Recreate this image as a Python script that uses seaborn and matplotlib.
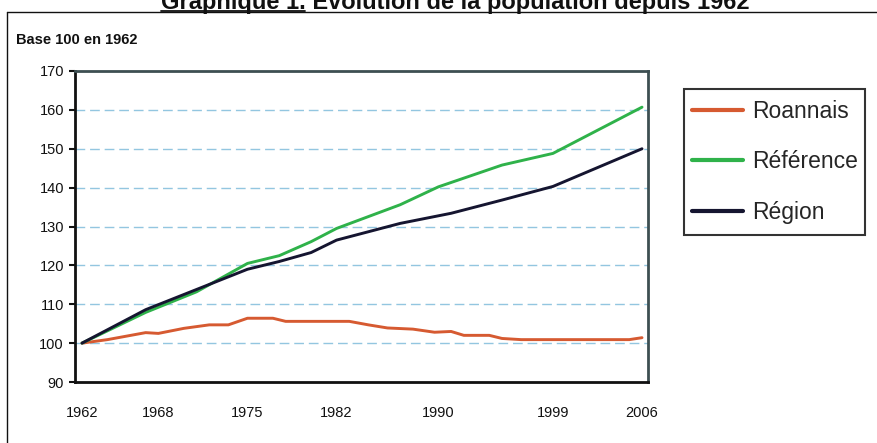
import pandas as pd
import matplotlib
matplotlib.use("Agg")
import matplotlib.pyplot as plt
from matplotlib.lines import Line2D
from matplotlib.patches import Rectangle
from matplotlib import font_manager
import seaborn as sns

# -------------------- Data (base 100 in 1962) --------------------
roannais_years = [1962, 1964, 1967, 1968, 1970, 1972, 1973.5, 1975, 1977, 1978, 1983,
                  1984.5, 1986, 1988, 1989.7, 1991, 1992, 1994, 1995, 1996.5, 2005, 2006]
roannais_values = [100, 100.9, 102.7, 102.5, 103.8, 104.7, 104.7, 106.4, 106.4, 105.6, 105.6,
                   104.7, 103.9, 103.6, 102.8, 103, 102, 102, 101.2, 100.9, 100.9, 101.4]

reference_years = [1962, 1967, 1971, 1975, 1977.5, 1980, 1982, 1987, 1990, 1995, 1999, 2006]
reference_values = [100, 107.9, 113.2, 120.5, 122.5, 126.1, 129.5, 135.6, 140.2, 145.8, 148.8, 160.7]

region_years = [1962, 1967, 1971, 1975, 1977.5, 1980, 1982, 1987, 1991, 1995, 1999, 2006]
region_values = [100, 108.6, 113.8, 119, 121, 123.3, 126.5, 130.8, 133.4, 136.8, 140.3, 150]

series_names = ["Roannais", "Référence", "Région"]
colors = ["#d65a31", "#2fb24a", "#151530"]

x_ticks = [1962, 1968, 1975, 1982, 1990, 1999, 2006]
y_ticks = [90, 100, 110, 120, 130, 140, 150, 160, 170]

frames = []
for name, yrs, vals in zip(series_names,
                           [roannais_years, reference_years, region_years],
                           [roannais_values, reference_values, region_values]):
    frames.append(pd.DataFrame({"annee": yrs, "indice": vals, "zone": name}))
df = pd.concat(frames, ignore_index=True)

# -------------------- Style --------------------
sns.set_theme(style="white")
installed = {f.name for f in font_manager.fontManager.ttflist}
if "Liberation Sans Narrow" in installed:
    cond_font = ["Liberation Sans Narrow", "Liberation Sans", "DejaVu Sans"]
    tick_size, base_size, leg_size = 12, 12.5, 19
else:
    cond_font = ["Liberation Sans", "DejaVu Sans"]
    tick_size, base_size, leg_size = 10.5, 10.5, 16.5
plt.rcParams["font.family"] = ["Liberation Sans", "DejaVu Sans"]

W, H = 878, 443
fig = plt.figure(figsize=(W / 100, H / 100), dpi=100)
ax = fig.add_axes([75 / W, (H - 382) / H, (648 - 75) / W, (382 - 71) / H])

sns.lineplot(data=df, x="annee", y="indice", hue="zone", hue_order=series_names,
             palette=colors, estimator=None, linewidth=2.1, ax=ax)

ax.set_xlim(1961.45, 2006.47)
ax.set_ylim(90, 170)
ax.set_xticks(x_ticks)
ax.set_yticks(y_ticks)
ax.set_xlabel("")
ax.set_ylabel("")
for lab in ax.get_xticklabels() + ax.get_yticklabels():
    lab.set_family(cond_font)
    lab.set_color("#111111")
ax.tick_params(axis="x", length=0, pad=17, labelsize=tick_size)
ax.tick_params(axis="y", length=4, width=1.5, direction="out", pad=4, labelsize=tick_size,
               left=True, color="#111111")

for y in y_ticks[1:-1]:
    ax.axhline(y, color="#93c6e0", lw=1, ls=(0, (7, 3.5)), zorder=0)

for side in ["left", "bottom"]:
    ax.spines[side].set_color("#111111")
    ax.spines[side].set_linewidth(2)
for side in ["top", "right"]:
    ax.spines[side].set_color("#3d4f52")
    ax.spines[side].set_linewidth(2)

# legend on the right: entries without frame, box drawn separately
handles, labels = ax.get_legend_handles_labels()
ax.legend(handles, labels, loc="center left", bbox_to_anchor=(692 / W, 1 - 162 / H),
          bbox_transform=fig.transFigure, borderaxespad=0, borderpad=0, frameon=False,
          prop={"family": cond_font, "size": leg_size},
          handlelength=2.23, handletextpad=0.39, labelspacing=1.22)
for h in ax.get_legend().get_lines():
    h.set_linewidth(3)
fig.add_artist(Rectangle((684 / W, 1 - 235 / H), (865 - 684) / W, (235 - 89) / H,
                         transform=fig.transFigure, fill=False, ec="#333333", lw=1.5))

# -------------------- Texts and outer frame --------------------
fig.text(16 / W, 1 - 40 / H, "Base 100 en 1962", fontsize=base_size, fontweight="bold",
         family=cond_font, va="center", ha="left", color="#111111")

title_y = 1 - 9 / H
prefix = "Graphique 1."
rest = " Evolution de la population depuis 1962"
t_full = fig.text(455 / W, title_y, prefix + rest, fontsize=17, fontweight="bold",
                  ha="center", va="baseline", color="#111111")
fig.canvas.draw()
renderer = fig.canvas.get_renderer()
bb = t_full.get_window_extent(renderer)
t_pre = fig.text(bb.x0 / W, title_y, prefix, fontsize=17, fontweight="bold",
                 ha="left", va="baseline", alpha=0)
bb_pre = t_pre.get_window_extent(renderer)
uy = title_y - 1.5 / H
fig.add_artist(Line2D([bb_pre.x0 / W, bb_pre.x1 / W], [uy, uy], color="#111111", lw=1.3))

fig.add_artist(Line2D([7 / W, 7 / W], [0, 1 - 12 / H], color="#111111", lw=1))
fig.add_artist(Line2D([7 / W, 1], [1 - 12 / H, 1 - 12 / H], color="#111111", lw=1))

fig.savefig("out.png", dpi=100)
